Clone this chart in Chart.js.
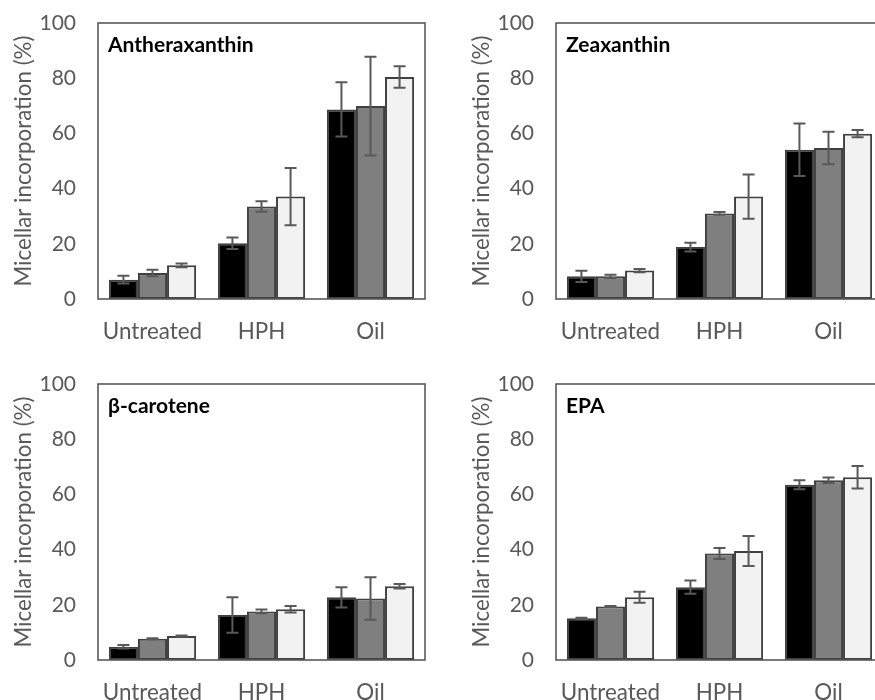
<!DOCTYPE html>
<html>
<head>
<meta charset="utf-8">
<script src="https://cdn.jsdelivr.net/npm/chart.js@4.4.1/dist/chart.umd.min.js"></script>
<style>
  html, body { margin: 0; padding: 0; background: #fff; overflow: hidden; width: 875px; height: 700px; }
  .panel { position: absolute; width: 440px; height: 350px; }
</style>
</head>
<body>
<div class="panel" style="left:0;top:0"><canvas id="c0" width="440" height="350"></canvas></div>
<div class="panel" style="left:458px;top:0"><canvas id="c1" width="440" height="350"></canvas></div>
<div class="panel" style="left:0;top:361px"><canvas id="c2" width="440" height="350"></canvas></div>
<div class="panel" style="left:458px;top:361px"><canvas id="c3" width="440" height="350"></canvas></div>
<script>
// Shared axis content
const categories = ['Untreated', 'HPH', 'Oil'];
const yTickValues = [0, 20, 40, 60, 80, 100];
const yAxisTitle = 'Micellar incorporation (%)';
const panelNames = ['Antheraxanthin', 'Zeaxanthin', 'β-carotene', 'EPA'];

// Antheraxanthin: means and error bars for the three treatment series
const anthSeries1 = [7.0, 20.2, 68.7];
const anthSeries2 = [9.4, 33.5, 69.9];
const anthSeries3 = [12.2, 37.1, 80.4];
const anthError1 = [1.4, 2.1, 9.8];
const anthError2 = [1.2, 1.9, 17.9];
const anthError3 = [0.7, 10.4, 3.9];

// Zeaxanthin
const zeaSeries1 = [8.2, 18.8, 54.1];
const zeaSeries2 = [8.2, 31.0, 54.7];
const zeaSeries3 = [10.3, 37.1, 59.9];
const zeaError1 = [2.0, 1.6, 9.5];
const zeaError2 = [0.6, 0.5, 5.9];
const zeaError3 = [0.6, 8.0, 1.3];

// β-carotene
const betaSeries1 = [4.8, 16.3, 22.7];
const betaSeries2 = [7.7, 17.6, 22.3];
const betaSeries3 = [8.7, 18.4, 26.7];
const betaError1 = [0.6, 6.4, 3.7];
const betaError2 = [0.2, 0.7, 7.7];
const betaError3 = [0.2, 1.2, 0.8];

// EPA
const epaSeries1 = [15.1, 26.4, 63.5];
const epaSeries2 = [19.4, 38.6, 65.1];
const epaSeries3 = [22.7, 39.5, 66.2];
const epaError1 = [0.2, 2.4, 1.6];
const epaError2 = [0.2, 2.0, 1.0];
const epaError3 = [2.0, 5.4, 4.1];

const seriesColors = ['#000000', '#7f7f7f', '#f2f2f2'];

const panels = [
  { id: 'c0', name: panelNames[0], means: [anthSeries1, anthSeries2, anthSeries3], errors: [anthError1, anthError2, anthError3] },
  { id: 'c1', name: panelNames[1], means: [zeaSeries1, zeaSeries2, zeaSeries3], errors: [zeaError1, zeaError2, zeaError3] },
  { id: 'c2', name: panelNames[2], means: [betaSeries1, betaSeries2, betaSeries3], errors: [betaError1, betaError2, betaError3] },
  { id: 'c3', name: panelNames[3], means: [epaSeries1, epaSeries2, epaSeries3], errors: [epaError1, epaError2, epaError3] }
];

const axisGrey = '#595959';
const yTickFont = { family: 'Lato', weight: '400', size: 21 };
const xTickFont = { family: 'Lato', weight: '400', size: 22.4 };
const titleFont = { family: 'Lato', weight: '400', size: 22.3 };

// Draws error bars, the box round the plot area and the panel name
const panelDecor = {
  id: 'panelDecor',
  afterDatasetsDraw(chart, args, opts) {
    const { ctx, chartArea: a } = chart;
    const y = chart.scales.y;
    ctx.save();
    ctx.strokeStyle = axisGrey;
    ctx.lineWidth = 2;
    chart.data.datasets.forEach((ds, i) => {
      const meta = chart.getDatasetMeta(i);
      meta.data.forEach((bar, j) => {
        const v = ds.data[j];
        const e = ds.errorBars[j];
        const yTop = y.getPixelForValue(v + e);
        const yBot = y.getPixelForValue(v - e);
        const half = 6;
        ctx.beginPath();
        ctx.moveTo(bar.x, yTop); ctx.lineTo(bar.x, yBot);
        ctx.moveTo(bar.x - half, yTop); ctx.lineTo(bar.x + half, yTop);
        ctx.moveTo(bar.x - half, yBot); ctx.lineTo(bar.x + half, yBot);
        ctx.stroke();
      });
    });
    ctx.lineWidth = 1.6;
    ctx.strokeRect(a.left, a.top, a.right - a.left, a.bottom - a.top);
    ctx.fillStyle = '#000';
    ctx.font = 'bold 21px Lato';
    ctx.textBaseline = 'alphabetic';
    ctx.textAlign = 'left';
    ctx.fillText(opts.name, a.left + 10, a.top + 28.5);
    ctx.restore();
  }
};

function build(p) {
  const datasets = p.means.map((m, i) => ({
    label: 'Series ' + (i + 1),
    data: m,
    errorBars: p.errors[i],
    backgroundColor: seriesColors[i],
    borderColor: '#404040',
    borderWidth: 2,
    borderSkipped: false,
    categoryPercentage: 0.8,
    barPercentage: 1.0
  }));
  new Chart(document.getElementById(p.id), {
    type: 'bar',
    data: { labels: categories, datasets },
    plugins: [panelDecor],
    options: {
      responsive: false,
      animation: false,
      layout: { padding: { left: 0, right: 15, top: 23, bottom: 0 } },
      plugins: {
        legend: { display: false },
        tooltip: { enabled: false },
        panelDecor: { name: p.name }
      },
      scales: {
        x: {
          grid: { display: false, drawTicks: false },
          border: { display: false },
          ticks: { color: axisGrey, font: xTickFont, padding: 19, maxRotation: 0 },
          afterFit: s => { s.height = 51; s.paddingLeft = 0; s.paddingRight = 0; }
        },
        y: {
          min: 0, max: 100,
          afterBuildTicks: s => { s.ticks = yTickValues.map(v => ({ value: v })); },
          grid: { display: false, drawTicks: false },
          border: { display: false },
          ticks: { color: axisGrey, font: yTickFont, padding: 22 },
          title: { display: true, text: yAxisTitle, color: axisGrey, font: titleFont, padding: { top: 10, bottom: 0 } },
          afterFit: s => { s.width = 98; s.paddingTop = 0; s.paddingBottom = 0; }
        }
      }
    }
  });
}

Promise.all([
  document.fonts.load('400 21px Lato'),
  document.fonts.load('bold 21px Lato')
]).catch(() => {}).then(() => panels.forEach(build));
</script>
</body>
</html>
